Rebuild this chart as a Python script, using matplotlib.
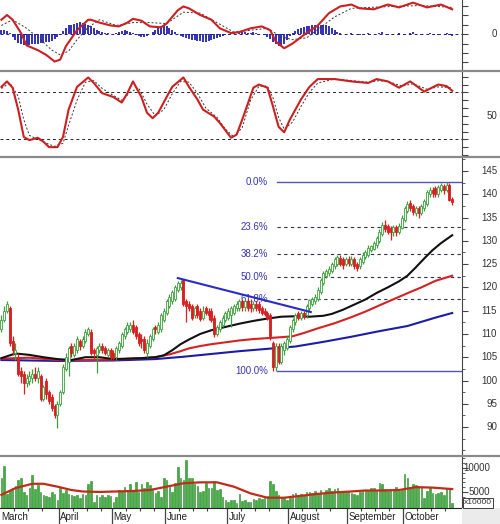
import numpy as np
import matplotlib.pyplot as plt
from matplotlib.lines import Line2D
from matplotlib.patches import Rectangle
import matplotlib.transforms as mtransforms

plt.rcParams['font.family'] = ['Liberation Sans', 'DejaVu Sans']

# ---- price bars (one per trading day, March .. late October) ----
opens = [111, 113, 115, 115.5, 108.5, 106, 105, 102, 101.5, 99.5,
         100, 100.5, 101.5, 100.5, 101, 96, 100, 97.5, 96.5, 94.5,
         92.5, 95, 97.5, 102.5, 104, 107.5, 105.5, 106.5, 108.5, 107.5,
         108.5, 110, 110.5, 106.5, 105.5, 106.5, 107.5, 107, 105.5, 106.5,
         106, 105, 106.5, 107.5, 109.5, 110.5, 111, 112, 111.5, 110,
         109, 109, 106, 107.5, 109, 111.5, 110.5, 111, 113, 114.5,
         116, 117, 117.5, 119.5, 120, 121.5, 117, 116.5, 116, 114,
         116, 115, 113.5, 115.5, 115, 115, 113.5, 110, 111, 112,
         113, 113.5, 114, 114.5, 115.5, 115.5, 117, 115.8, 117, 116.5,
         115.5, 116.5, 116.5, 115.5, 115, 114.5, 114, 108, 103, 107.5,
         104, 106.5, 107, 108.5, 111, 112.5, 114.5, 113.5, 114.5, 114,
         115.5, 116.5, 117, 117.5, 119, 121, 122.5, 123, 123.5, 124.5,
         125, 126.3, 126, 125, 126.2, 125, 126, 125, 124.5, 125.5,
         126.5, 127, 128, 128.3, 129, 130, 131.5, 133.5, 133.2, 132.8,
         131.8, 133, 132, 132.8, 134.5, 136.5, 138.2, 137.5, 136, 137,
         136, 137, 138, 140, 141, 141.3, 140, 141, 141.8, 141,
         142, 139]
closes = [113, 115, 116.5, 108, 106.5, 106.5, 101.5, 101, 99.5, 100.5,
          101, 101.5, 100.5, 102, 96, 98.5, 97, 95.5, 94, 92.5,
          95, 97.5, 103, 105, 107, 106, 107.5, 109, 107.5, 109,
          110.5, 111, 106, 106, 107, 107.5, 106.5, 106, 106.5, 105,
          104.8, 107, 108, 110, 111, 112, 112, 110.5, 109.5, 108,
          108.5, 106.5, 108, 109.5, 111, 111, 112, 114, 115, 117,
          118, 119, 120, 121, 121, 116.5, 116, 115.5, 113.5, 115.5,
          114, 113.2, 115, 114.5, 114, 113, 110, 111.5, 112.5, 113.5,
          114.5, 115, 115.5, 116, 116.5, 117, 115.8, 117, 115.5, 115.5,
          116.5, 115.5, 115.2, 114.5, 114.3, 113.5, 109.5, 103, 107.5, 104,
          107.5, 108, 109, 111.5, 113, 114, 113.5, 114.5, 113.8, 116,
          117.2, 117.5, 118, 119.5, 121.5, 123, 123.5, 124, 125, 126,
          126.5, 125, 124.8, 126, 125.2, 126.2, 124.5, 124.2, 126, 127,
          127.5, 128.5, 128.8, 129.5, 130.5, 132, 133.5, 132.5, 132, 131.8,
          133, 132, 133.2, 135, 137, 138, 137, 136.2, 137, 136,
          137.5, 138.5, 140.5, 141, 140.2, 140, 141.5, 142, 141, 142,
          138.8, 138.4]
highs = [114, 116, 117, 116, 109.5, 108, 106, 103, 102, 101.5,
         102, 102.5, 102.8, 103, 101.5, 99, 100.5, 98, 97, 95,
         95.5, 98, 103.5, 106, 107.5, 108, 108, 109.5, 109, 109.5,
         111, 111.5, 111, 107, 107.5, 108, 108, 107.5, 107, 107,
         106.5, 107.5, 108.5, 110.5, 111.5, 112.5, 112.5, 113, 112, 110.5,
         110, 109.5, 109, 110, 111.5, 112, 112.5, 114.5, 115.5, 117.5,
         118.5, 119.5, 120.5, 121.3, 121.5, 121.8, 117.5, 117, 116.5, 116,
         116.5, 115.5, 116, 116, 115.5, 115.5, 114, 112, 113, 114,
         115, 115.5, 116, 116.5, 117, 117.5, 117.5, 117.5, 117.5, 117.5,
         117, 117, 117, 116, 115.5, 115, 114.5, 108.5, 108, 108,
         108, 108.5, 109.5, 112, 113.5, 114.5, 115, 115, 115, 116.5,
         117.5, 118, 118.5, 120, 122, 123.5, 124, 124.5, 125.5, 126.5,
         127, 127, 126.5, 126.5, 126.8, 126.8, 126.5, 125.5, 126.5, 127.5,
         128, 129, 129.2, 130, 131, 132.5, 134, 134.5, 133.7, 133.2,
         133.5, 133.5, 133.8, 135.5, 137.5, 138.5, 138.7, 138, 137.5, 137.5,
         138, 139, 141, 141.5, 141.5, 141.8, 142, 142.4, 142.2, 142.6,
         142.5, 139.5]
lows = [110.5, 112.5, 114.5, 107.5, 105.5, 104.5, 101, 99.5, 97, 98.5,
        99, 99.5, 100, 99.5, 95.5, 95.5, 96, 95, 93.5, 92,
        89.8, 94.5, 97, 102, 101, 105, 105, 106, 106.5, 107,
        108, 109.5, 105.5, 104.5, 101.6, 106, 106, 105.5, 105, 104.5,
        104.3, 104.5, 106, 107, 109, 110, 110.5, 110, 109, 107.5,
        107, 106, 105, 107, 108.5, 110, 110, 110.5, 112.5, 114,
        115.5, 116.5, 117, 119, 119.5, 116, 112.5, 115, 113, 113.5,
        113.5, 112.8, 113, 114, 113, 112.5, 109.3, 109.5, 110.5, 111.5,
        112.5, 113, 111.5, 114, 115, 115, 115, 115, 115, 114.8,
        115, 115, 114.5, 114, 113.8, 113, 108.8, 102, 102, 103.5,
        103.5, 105.5, 106.5, 108, 110.5, 112, 113, 113, 113.3, 113.5,
        115, 116, 116.5, 117, 118.5, 120.5, 122, 122.5, 123, 124,
        124.5, 124.5, 124, 124.5, 124.5, 124.5, 124, 123.5, 124, 125,
        126, 126.5, 127.5, 128, 128.5, 129.5, 131, 132, 131.5, 130.2,
        131, 131, 131.5, 132.5, 134, 136, 136.5, 135.5, 135.3, 135,
        135.5, 136.5, 137.5, 139.5, 139.5, 139.5, 139.5, 140.5, 140, 140.5,
        138.5, 137.7]

# moving averages at a few bars
ma_black_idx = [0, 5, 10, 15, 20, 25, 30, 35, 40, 45, 50, 55, 58, 61, 64, 67, 71, 75, 80, 85,
                90, 95, 100, 105, 110, 115, 118, 122, 126, 130, 134, 138, 142, 145, 148, 151, 154, 157, 161]
ma_black = [104.8, 105.8, 105.5, 105.0, 104.6, 104.4, 105.0, 105.0, 104.6, 104.7, 104.8, 105.0, 105.4,
            106.5, 107.8, 108.8, 110.0, 110.8, 111.5, 112.2, 112.8, 113.3, 113.7, 113.8, 113.7, 113.9,
            114.3, 115.2, 116.3, 117.4, 118.8, 120.0, 121.3, 122.5, 124.3, 126.2, 128.0, 129.5, 131.2]
ma_red_idx = [0, 10, 20, 30, 40, 50, 55, 60, 64, 67, 71, 75, 80, 85, 90, 95, 100, 104, 108, 113,
              119, 125, 130, 136, 141, 146, 150, 155, 161]
ma_red = [104.7, 104.9, 104.4, 104.4, 104.5, 104.8, 105.0, 105.6, 106.3, 106.9, 107.4, 107.8, 108.2,
          108.6, 108.9, 109.1, 109.3, 109.5, 110.2, 111.2, 112.3, 113.6, 114.8, 116.4, 117.7, 119.0,
          120.0, 121.4, 122.5]
ma_blue_idx = [0, 20, 40, 55, 65, 75, 85, 95, 105, 115, 125, 135, 145, 155, 161]
ma_blue = [104.4, 104.2, 104.3, 104.6, 105.1, 105.7, 106.3, 106.8, 107.3, 108.3, 109.4, 110.6,
           111.7, 113.5, 114.5]

# fibonacci retracement + trend line
fib_labels = ['0.0%', '23.6%', '38.2%', '50.0%', '61.8%', '100.0%']
fib_values = [142.6, 133.0, 127.1, 122.3, 117.5, 102.0]
trend_x = [63, 110.5]
trend_y = [122.0, 114.7]

# volume (shares, axis in x10000)
volume = [7800, 10500, 4600, 5400, 5800, 6200, 7400, 8000, 5000, 4400,
          5800, 8600, 5600, 6400, 5000, 4400, 4200, 4000, 5000, 4600,
          3400, 5800, 4800, 5400, 4600, 4400, 4200, 4400, 3800, 4600,
          4400, 6600, 7300, 3000, 4400, 4000, 4400, 4000, 4400, 4200,
          3000, 4000, 5400, 5200, 6000, 5400, 6600, 5400, 7000, 5000,
          6600, 5800, 7000, 6400, 5600, 4800, 5200, 4000, 8000, 7400,
          6000, 5000, 6800, 10200, 8000, 7400, 11600, 8000, 8000, 6600,
          6200, 5000, 5200, 6800, 5800, 5800, 7200, 5400, 5600, 4000,
          3300, 3000, 3400, 3400, 2800, 4600, 3200, 3400, 3000, 3000,
          3600, 3400, 3800, 3600, 3800, 4200, 7200, 6600, 5200, 4400,
          4000, 3700, 3400, 3800, 4600, 4800, 4400, 4600, 4400, 5000,
          5000, 4800, 5200, 4600, 5400, 4800, 5400, 5800, 5200, 5600,
          5800, 5000, 5200, 5000, 5100, 4800, 4600, 4400, 5000, 5200,
          5500, 5400, 5800, 5800, 5400, 6800, 6600, 5600, 5200, 5600,
          5400, 6000, 5200, 5400, 8800, 7800, 6000, 6600, 6400, 6200,
          6000, 3800, 5200, 6000, 4800, 4600, 4800, 5000, 4400, 5800,
          5600, 2800]
vol_ma_idx = [0, 5, 11, 15, 20, 25, 29, 35, 41, 47, 53, 59, 65, 71, 77, 83, 89, 95, 101, 107,
              113, 119, 125, 130, 136, 142, 148, 154, 161]
vol_ma = [4400, 5800, 6700, 6700, 6100, 5400, 5100, 5000, 5100, 5200, 5400, 6100, 6800, 7000, 7000,
          6100, 4700, 3800, 3800, 4200, 4600, 4900, 5100, 5300, 5300, 5400, 6000, 5900, 5600]

# MACD
macd_idx = [0, 2, 4, 7, 9, 13, 16, 19, 21, 23, 27, 31, 32, 35, 39, 42, 45, 47, 50, 53, 57, 59, 63,
            65, 67, 71, 75, 78, 82, 85, 89, 93, 96, 98, 101, 104, 108, 113, 117, 121, 125, 128, 133,
            138, 142, 147, 152, 157, 161]
macd = [1.5, 2.0, 1.5, 0.1, -1.2, -1.7, -2.2, -2.9, -2.7, -1.3, 0.4, 1.5, 1.5, 1.2, 0.9, 0.8, 1.2,
        1.6, 1.4, 0.8, 0.7, 1.1, 2.5, 2.9, 2.7, 2.0, 1.5, 0.6, 0.1, 0.2, 0.6, 0.8, 0.4, -0.8, -1.5,
        -1.0, -0.1, 0.9, 2.2, 2.9, 3.1, 2.7, 2.6, 3.1, 2.8, 3.3, 2.8, 3.1, 2.6]
signal_idx = [0, 4, 9, 14, 18, 21, 24, 27, 31, 35, 41, 47, 53, 59, 65, 71, 77, 83, 89, 95, 100,
              104, 109, 114, 119, 125, 131, 140, 150, 161]
signal = [0.9, 1.5, 0.6, -0.6, -1.7, -2.2, -1.8, -0.6, 0.7, 1.5, 0.9, 1.2, 1.2, 1.1, 2.3, 2.2, 1.2,
          0.2, 0.4, 0.6, -0.3, -0.6, -0.4, 0.7, 1.8, 2.7, 2.8, 2.9, 3.0, 2.8]
hist = [0.4, 0.4, 0.3, 0.1, -0.3, -0.6, -0.9, -1.1, -1.2, -1.3,
        -1.2, -1.1, -1.0, -1.0, -0.9, -0.9, -0.8, -0.8, -0.7, -0.5,
        -0.3, 0.0, 0.3, 0.6, 0.9, 1.0, 1.1, 1.2, 1.3, 1.2,
        1.1, 1.0, 0.8, 0.6, 0.4, 0.3, 0.2, 0.1, 0.1, 0.0,
        0.0, 0.1, 0.2, 0.3, 0.4, 0.3, 0.2, 0.1, 0.0, -0.2,
        -0.3, -0.3, -0.2, 0.0, 0.2, 0.4, 0.6, 0.8, 0.9, 0.8,
        0.6, 0.4, 0.2, 0.0, -0.2, -0.3, -0.4, -0.5, -0.6, -0.6,
        -0.7, -0.7, -0.8, -0.8, -0.7, -0.6, -0.5, -0.4, -0.3, -0.2,
        -0.1, 0.0, 0.1, 0.1, 0.0, 0.1, 0.2, 0.2, 0.1, 0.1,
        0.2, 0.1, 0.0, 0.0, -0.1, -0.3, -0.5, -0.8, -1.1, -1.3,
        -1.2, -1.0, -0.6, -0.2, 0.1, 0.3, 0.5, 0.6, 0.7, 0.8,
        0.8, 0.9, 0.9, 1.0, 1.0, 1.0, 0.9, 0.8, 0.6, 0.4,
        0.2, 0.1, 0.0, -0.1, 0.0, 0.1, 0.0, 0.0, -0.1, 0.0,
        0.0, 0.1, 0.0, 0.0, 0.0, 0.1, 0.2, 0.0, -0.1, 0.0,
        0.0, 0.0, 0.1, 0.0, -0.1, 0.0, 0.1, 0.2, 0.0, 0.0,
        -0.1, 0.0, 0.0, 0.1, 0.0, 0.0, -0.1, 0.0, 0.0, 0.1,
        -0.1, -0.2]

# stochastic
stk_idx = [0, 2, 4, 6, 8, 10, 13, 15, 17, 20, 22, 24, 27, 31, 33, 36, 40, 43, 45, 47, 50, 52, 54,
           56, 59, 61, 65, 67, 70, 72, 76, 78, 82, 84, 86, 90, 92, 95, 97, 99, 101, 103, 107, 110,
           113, 119, 125, 131, 134, 138, 142, 146, 151, 156, 159, 161]
stk_k = [87, 94, 86, 58, 23, 19, 22, 17, 10, 10, 23, 58, 87, 99, 92, 79, 74, 67, 79, 94, 74, 54, 47,
         54, 74, 87, 99, 87, 71, 58, 49, 41, 22, 26, 45, 86, 90, 86, 62, 36, 29, 45, 71, 87, 97, 97,
         94, 92, 97, 94, 86, 94, 81, 90, 88, 82]
std_idx = [0, 3, 6, 8, 10, 13, 16, 19, 22, 24, 27, 30, 33, 36, 40, 43, 46, 49, 52, 55, 58, 61, 64,
           67, 70, 73, 77, 80, 83, 86, 89, 92, 95, 97, 99, 101, 104, 107, 110, 113, 119, 125, 131,
           135, 139, 143, 147, 152, 156, 161]
std_d = [85, 92, 75, 45, 25, 20, 15, 11, 15, 38, 70, 93, 95, 85, 76, 70, 80, 86, 65, 50, 58, 78, 94,
         93, 79, 60, 48, 33, 23, 35, 70, 88, 88, 73, 48, 33, 42, 62, 80, 92, 97, 95, 93, 95, 93, 88,
         91, 84, 87, 86]

months = ['March', 'April', 'May', 'June', 'July', 'August', 'September', 'October']
month_start = [0, 21, 40, 59, 81, 103, 124, 144]

# ---- layout (pixel boxes of the 500x524 picture) ----
W, H = 500, 524
PR = 462


def box(top, bottom):
    return [0, 1 - bottom / H, PR / W, (bottom - top) / H]


fig = plt.figure(figsize=(5.0, 5.24), dpi=100)
ax_macd = fig.add_axes(box(0, 70))
ax_sto = fig.add_axes(box(71, 156))
ax_px = fig.add_axes(box(157, 455))
ax_vol = fig.add_axes(box(456, 508))

n = len(closes)
x = np.arange(n)
TXT = '#333333'

for ax in (ax_macd, ax_sto, ax_px, ax_vol):
    ax.set_xlim(-0.5, 164.5)
    for s in ('top', 'left', 'bottom'):
        ax.spines[s].set_visible(False)
    ax.spines['right'].set_color('#444444')
    ax.yaxis.tick_right()
    ax.tick_params(axis='y', which='both', direction='out', colors='#444444', labelright=False)
    ax.tick_params(axis='y', which='major', length=4)
    ax.tick_params(axis='y', which='minor', length=2)
    ax.set_xticks([])


def right_label(ax, y, s, xpos=1.0758):
    tr = mtransforms.blended_transform_factory(ax.transAxes, ax.transData)
    ax.text(xpos, y, s, transform=tr, ha='right', va='center', fontsize=7, color=TXT, clip_on=False)


# MACD panel
ax_macd.set_ylim(-3.79, 3.58)
ax_macd.set_yticks(range(-3, 4))
ax_macd.axhline(0, color='#1a1a80', lw=0.7, ls=(0, (3, 3)))
ax_macd.vlines(x, 0, hist, color='#2020b0', lw=1.3)
ax_macd.plot(signal_idx, signal, color='#333333', lw=0.7, ls=(0, (2, 2)))
ax_macd.plot(macd_idx, macd, color='#cc1f1f', lw=1.5)
right_label(ax_macd, 0, '0')

# Stochastic panel
ax_sto.set_ylim(-1.3, 107.3)
ax_sto.set_yticks(range(0, 101, 10))
for lvl in (20, 80):
    ax_sto.axhline(lvl, color='#222222', lw=0.7, ls=(0, (3, 3)))
ax_sto.plot(std_idx, std_d, color='#333333', lw=0.7, ls=(0, (2, 2)))
ax_sto.plot(stk_idx, stk_k, color='#cc1f1f', lw=1.5)
right_label(ax_sto, 50, '50')

# Price panel
ax_px.set_ylim(84, 148)
ax_px.set_yticks(range(90, 146, 5))
ax_px.set_yticks(np.arange(85, 148, 2.5), minor=True)
for lvl in range(90, 146, 5):
    right_label(ax_px, lvl, str(lvl))

for lab, val in zip(fib_labels, fib_values):
    if lab in ('0.0%', '100.0%'):
        ax_px.plot([98.4, 164.5], [val, val], color='#5555b0', lw=1.0, zorder=1)
    else:
        ax_px.plot([98.4, 164.5], [val, val], color='#303050', lw=0.8, ls=(0, (3, 3)), zorder=1)
    ax_px.text(95.2, val, lab, ha='right', va='center', fontsize=7, color='#3535b5', zorder=1)

ax_px.plot(ma_blue_idx, ma_blue, color='#1c1ca8', lw=1.5, zorder=2)
ax_px.plot(ma_red_idx, ma_red, color='#d42222', lw=1.5, zorder=2)
ax_px.plot(ma_black_idx, ma_black, color='#111111', lw=1.5, zorder=2)
ax_px.plot(trend_x, trend_y, color='#2a2ac8', lw=1.5, zorder=4)

o = np.array(opens)
c = np.array(closes)
up = c >= o
cols = np.where(up, '#3f9f3f', '#d81e1e')
faces = np.where(up, '#f0faf0', '#d81e1e')
ax_px.vlines(x, lows, highs, colors=cols, lw=0.9, zorder=3)
body = np.maximum(np.abs(c - o), 0.2)
ax_px.bar(x, body, bottom=np.minimum(o, c), width=0.75, color=faces, edgecolor=cols, lw=0.6, zorder=3)

# Volume panel
ax_vol.set_ylim(1660, 12480)
ax_vol.set_yticks([5000, 10000])
ax_vol.set_yticks(range(2000, 12001, 1000), minor=True)
ax_vol.bar(x, volume, width=0.55, color='#3fae3f', edgecolor='#2a8a2a', lw=0.4)
ax_vol.plot(vol_ma_idx, vol_ma, color='#c42a1a', lw=1.6)
right_label(ax_vol, 5000, '5000', 1.0606)
right_label(ax_vol, 10000, '10000', 1.0606)
ax_vol.spines['bottom'].set_visible(True)
ax_vol.spines['bottom'].set_color('#222222')
ax_vol.set_xticks([m - 0.5 for m in month_start[1:]])
ax_vol.set_xticks([m + k - 0.5 for m in month_start for k in (5, 10, 15) if m + k < n], minor=True)
ax_vol.tick_params(axis='x', which='major', direction='out', length=12, width=0.9, colors='#444444',
                   labelbottom=False)
ax_vol.tick_params(axis='x', which='minor', direction='out', length=2.5, width=0.8, colors='#444444')
trm = mtransforms.blended_transform_factory(ax_vol.transData, ax_vol.transAxes)
for name, m in zip(months, month_start):
    ax_vol.text(m + 0.1, -0.175, name, transform=trm, ha='left', va='center', fontsize=7,
                color='#222222', clip_on=False)

# panel separators and corner bits
for yp in (70.5, 156.5, 455.5):
    fig.add_artist(Line2D([0, 1], [1 - yp / H] * 2, color='#8a8a8a', lw=1.6))
fig.add_artist(Rectangle((PR / W, 0), 1 - PR / W, 16 / H, color='#ebebeb', lw=0))
fig.text(464 / W, 1 - 503 / H, 'x10000', fontsize=6, color=TXT, ha='left', va='center',
         bbox=dict(boxstyle='square,pad=0.15', fc='white', ec='#222222', lw=0.6))

fig.savefig('out.png', dpi=100)
